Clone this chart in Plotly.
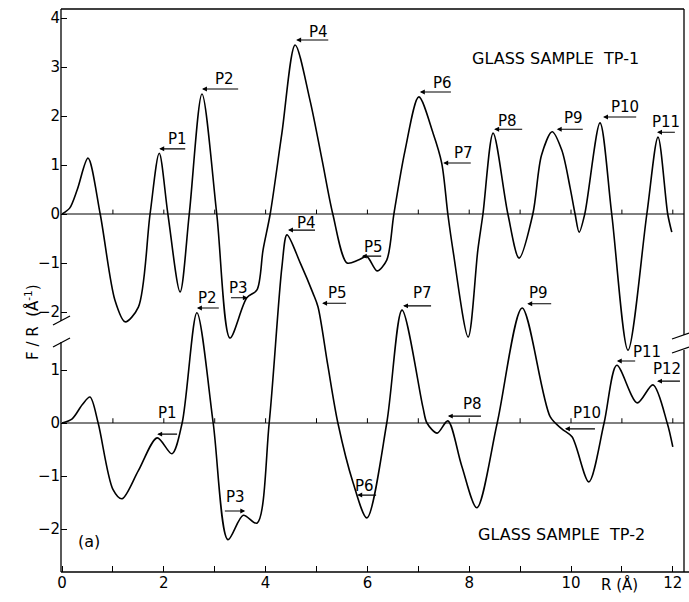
import plotly.graph_objects as go

# ---------------- data ----------------
r_tp1 = [0.00, 0.15, 0.30, 0.51, 0.75, 1.04, 1.24, 1.50, 1.73, 1.91, 2.08, 2.32, 2.50,
         2.75, 3.04, 3.30, 3.63, 3.83, 3.95, 4.09, 4.32, 4.58, 4.87, 5.11, 5.32, 5.60, 5.82, 5.99,
         6.19, 6.38, 6.52, 6.74, 7.01, 7.29, 7.46, 7.58, 7.68, 7.98, 8.17, 8.27, 8.47, 8.76, 8.98,
         9.25, 9.42, 9.63, 9.82, 9.98, 10.08, 10.16, 10.27, 10.57, 10.80, 11.12, 11.49, 11.71, 11.90, 11.98]
f_tp1 = [0.00, 0.12, 0.50, 1.14, 0.00, -1.76, -2.20, -1.90, 0.00, 1.24, 0.00, -1.59, 0.00,
         2.45, 0.00, -2.53, -1.71, -1.55, -0.73, 0.00, 1.65, 3.45, 2.33, 1.10, 0.00, -1.00, -0.94, -0.87,
         -1.16, -0.94, 0.00, 1.30, 2.39, 1.65, 1.04, 0.00, -0.73, -2.51, -0.73, 0.00, 1.65, 0.00, -0.90,
         0.00, 1.20, 1.68, 1.30, 0.55, 0.00, -0.37, 0.00, 1.86, 0.00, -2.78, 0.00, 1.57, 0.00, -0.37]

r_tp2 = [0.00, 0.20, 0.40, 0.55, 0.71, 1.00, 1.18, 1.50, 1.87, 2.16, 2.36, 2.65, 2.97, 3.26,
         3.56, 3.83, 4.07, 4.32, 4.42, 4.68, 4.93, 5.03, 5.22, 5.42, 5.72, 5.99, 6.38, 6.68, 7.09,
         7.17, 7.37, 7.58, 7.85, 8.15, 8.55, 9.04, 9.59, 9.82, 10.02, 10.35, 10.65, 10.90, 11.30, 11.61,
         11.89, 12.00]
f_tp2 = [0.00, 0.08, 0.35, 0.49, 0.00, -1.25, -1.43, -0.90, -0.28, -0.58, 0.00, 2.08, 0.00, -2.20,
         -1.74, -1.89, 0.00, 2.94, 3.55, 3.02, 2.45, 2.19, 1.10, 0.00, -1.13, -1.79, 0.00, 2.13, 0.30,
         0.00, -0.19, 0.04, -0.80, -1.60, 0.00, 2.17, 0.12, -0.11, -0.26, -1.11, 0.00, 1.09, 0.38, 0.72,
         0.00, -0.45]

zero_ticks = [1, 2, 3, 4, 5, 6, 7, 8, 9, 10, 11, 12]

# peak labels, TP-1
tp1_names = ["P1", "P2", "P3", "P4", "P5", "P6", "P7", "P8", "P9", "P10", "P11"]
tp1_text_r = [2.26, 3.20, 3.46, 5.03, 6.11, 7.47, 7.88, 8.76, 10.04, 11.06, 11.87]
tp1_text_f = [1.53, 2.76, -1.51, 3.71, -0.67, 2.67, 1.24, 1.90, 1.96, 2.18, 1.88]
tp1_head_r = [1.91, 2.75, 3.65, 4.60, 5.89, 7.03, 7.49, 8.49, 9.72, 10.63, 11.69]
tp1_tail_r = [2.46, 3.50, 3.28, 5.27, 6.31, 7.68, 8.07, 9.08, 10.27, 11.32, 12.08]
tp1_arrow_f = [1.33, 2.55, -1.71, 3.55, -0.86, 2.49, 1.04, 1.73, 1.73, 1.98, 1.67]

# peak labels, TP-2
tp2_names = ["P1", "P2", "P3", "P4", "P5", "P6", "P7", "P8", "P9", "P10", "P11", "P12"]
tp2_text_r = [2.08, 2.85, 3.40, 4.81, 5.42, 5.95, 7.09, 8.07, 9.37, 10.31, 11.49, 11.89]
tp2_text_f = [0.19, 2.36, -1.40, 3.77, 2.45, -1.19, 2.45, 0.36, 2.45, 0.19, 1.34, 1.02]
tp2_head_r = [1.87, 2.65, 3.60, 4.44, 5.11, 5.80, 6.70, 7.58, 9.14, 9.88, 10.90, 11.69]
tp2_tail_r = [2.30, 3.12, 3.16, 5.01, 5.62, 6.21, 7.29, 8.27, 9.65, 10.51, 11.30, 12.18]
tp2_arrow_f = [-0.21, 2.17, -1.66, 3.64, 2.26, -1.36, 2.21, 0.13, 2.25, -0.11, 1.17, 0.79]

x_major = [0, 2, 4, 6, 8, 10, 12]
x_minor = [1, 3, 5, 7, 9, 11]
y1_ticks = [-2, -1, 0, 1, 2, 3, 4]
y2_ticks = [-2, -1, 0, 1]

# ---------------- figure ----------------
FONT = "DejaVu Sans"
W, H = 689, 602
L, R, T, B = 61, 5, 9, 30
PW, PH = W - L - R, H - T - B


def px(xp):
    return (xp - L) / PW


def py(yp):
    return (H - B - yp) / PH


fig = go.Figure()

# zero lines with small unit ticks
for yax in ("y", "y2"):
    fig.add_trace(go.Scatter(x=[0, 12.22], y=[0, 0], mode="lines", yaxis=yax,
                             line=dict(color="black", width=1), showlegend=False, hoverinfo="skip"))
    tx, ty = [], []
    for t in zero_ticks:
        tx += [t, t, None]
        ty += [0, 0.09, None]
    fig.add_trace(go.Scatter(x=tx, y=ty, mode="lines", yaxis=yax,
                             line=dict(color="black", width=1), showlegend=False, hoverinfo="skip"))

fig.add_trace(go.Scatter(x=r_tp1, y=f_tp1, mode="lines", yaxis="y",
                         line=dict(color="black", width=1.6, shape="spline", smoothing=0.85),
                         showlegend=False))
fig.add_trace(go.Scatter(x=r_tp2, y=f_tp2, mode="lines", yaxis="y2",
                         line=dict(color="black", width=1.6, shape="spline", smoothing=0.85),
                         showlegend=False))

annotations = []
lab_font = dict(family=FONT, size=15, color="black")


def add_labels(names, tr, tf, hr, trr, af, yref):
    for i, n in enumerate(names):
        annotations.append(dict(x=tr[i], y=tf[i], xref="x", yref=yref, text=n, showarrow=False,
                                font=lab_font, yanchor="middle", xanchor="center"))
        annotations.append(dict(x=hr[i], y=af[i], xref="x", yref=yref, ax=trr[i], ay=af[i],
                                axref="x", ayref=yref, text=" ", showarrow=True, arrowhead=2,
                                arrowsize=0.9, arrowwidth=1.1, arrowcolor="black", standoff=0,
                                font=dict(size=2)))


add_labels(tp1_names, tp1_text_r, tp1_text_f, tp1_head_r, tp1_tail_r, tp1_arrow_f, "y")
add_labels(tp2_names, tp2_text_r, tp2_text_f, tp2_head_r, tp2_tail_r, tp2_arrow_f, "y2")

annotations += [
    dict(x=9.7, y=3.18, xref="x", yref="y", text="GLASS SAMPLE  TP-1", showarrow=False,
         font=dict(family=FONT, size=16, color="black")),
    dict(x=9.82, y=-2.11, xref="x", yref="y2", text="GLASS SAMPLE  TP-2", showarrow=False,
         font=dict(family=FONT, size=16, color="black")),
    dict(x=10.96, y=py(584), xref="x", yref="paper", text="R (Å)", showarrow=False,
         font=dict(family=FONT, size=15, color="black"), yanchor="middle"),
    dict(x=px(76), y=py(553), xref="paper", yref="paper", text="(a)", showarrow=False,
         font=dict(family=FONT, size=16, color="black")),
    dict(x=px(20), y=py(322), xref="paper", yref="paper", text="F / R  (Å<sup>-1</sup>)",
         showarrow=False, textangle=-90, font=dict(family=FONT, size=15, color="black")),
]

# frame with axis breaks
shapes = []
line = dict(color="black", width=1.3)
shapes.append(dict(type="line", xref="paper", yref="paper", x0=0, x1=1, y0=1, y1=1, line=line))
shapes.append(dict(type="line", xref="paper", yref="paper", x0=0, x1=1.01, y0=0, y1=0, line=line))
shapes.append(dict(type="line", xref="paper", yref="paper", x0=0, x1=0, y0=1, y1=py(321), line=line))
shapes.append(dict(type="line", xref="paper", yref="paper", x0=0, x1=0, y0=py(342), y1=0, line=line))
shapes.append(dict(type="line", xref="paper", yref="paper", x0=px(53), x1=px(70), y0=py(325), y1=py(316), line=line))
shapes.append(dict(type="line", xref="paper", yref="paper", x0=px(53), x1=px(70), y0=py(347), y1=py(338), line=line))
shapes.append(dict(type="line", xref="paper", yref="paper", x0=1, x1=1, y0=1, y1=py(335), line=line))
shapes.append(dict(type="line", xref="paper", yref="paper", x0=1, x1=1, y0=py(350), y1=0, line=line))
shapes.append(dict(type="line", xref="paper", yref="paper", x0=px(672), x1=px(689), y0=py(339), y1=py(333), line=line))
shapes.append(dict(type="line", xref="paper", yref="paper", x0=px(672), x1=px(689), y0=py(353), y1=py(347), line=line))

tickfont = dict(family=FONT, size=15, color="black")
fig.update_layout(
    width=W, height=H, margin=dict(l=L, r=R, t=T, b=B),
    plot_bgcolor="white", paper_bgcolor="white",
    xaxis=dict(range=[-0.02, 12.22], tickvals=x_major, ticks="inside",
               ticklen=6, tickcolor="black", showgrid=False, zeroline=False, showline=False,
               tickfont=tickfont,
               minor=dict(tickvals=x_minor, ticks="inside", ticklen=6, tickcolor="black",
                          showgrid=False)),
    yaxis=dict(range=[-7.306, 4.184], tickvals=y1_ticks, ticks="inside", ticklen=6,
               tickcolor="black", showgrid=False, zeroline=False, showline=False, tickfont=tickfont),
    yaxis2=dict(range=[-2.811, 7.811], tickvals=y2_ticks, ticks="inside", ticklen=6,
                tickcolor="black", showgrid=False, zeroline=False, showline=False, tickfont=tickfont,
                overlaying="y", side="left", anchor="x"),
    annotations=annotations, shapes=shapes, showlegend=False,
)

fig.write_html("out.html")
